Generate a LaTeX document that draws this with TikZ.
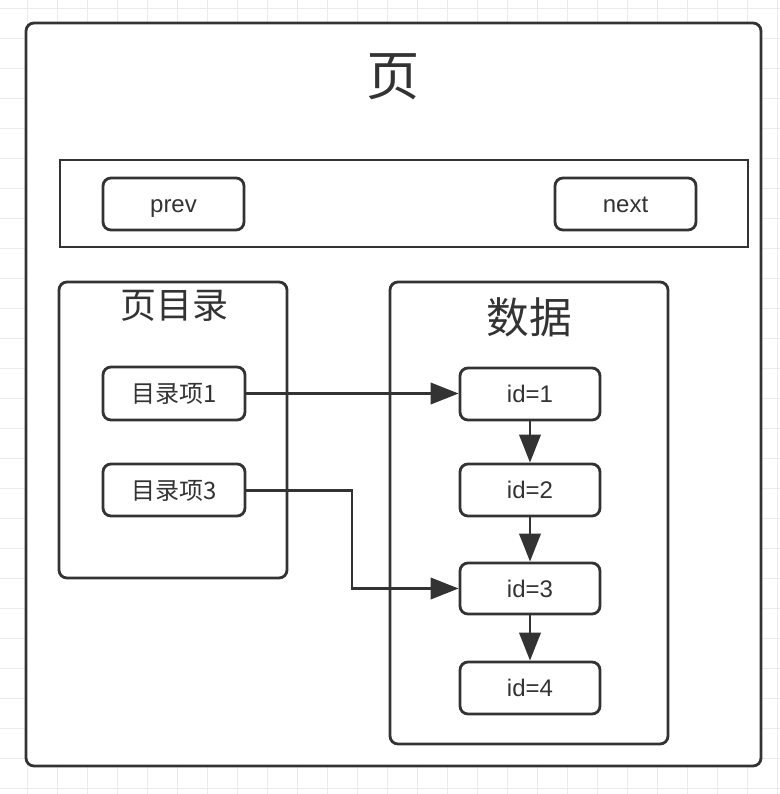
\documentclass[tikz,border=0pt]{standalone}
\usepackage{fontspec}
\setmainfont{Liberation Sans}
\newfontfamily\cjk{Noto Sans CJK SC}
\usetikzlibrary{arrows.meta}
\definecolor{ink}{HTML}{333333}
\definecolor{gridc}{HTML}{EBEBEB}
\tikzset{
  boxbase/.style={draw=ink, line width=2.1pt, fill=white, inner sep=0pt, text=ink},
  rbox/.style={boxbase, rounded corners=6pt},
  sbox/.style={boxbase},
  smalltext/.style={font=\fontsize{18}{20}\selectfont, text height=13pt, text depth=0pt},
  cjksmall/.style={font=\cjk\fontsize{18}{20}\selectfont, text height=13.5pt, text depth=0pt},
  conn/.style={draw=ink, line width=2.1pt, -{Triangle[length=21pt,width=16pt]}},
  titletext/.style={text=ink, inner sep=0pt},
}
\begin{document}
\begin{tikzpicture}[x=0.75pt,y=-0.75pt]
\useasboundingbox (0,0) rectangle (780,794);
\fill[white] (0,0) rectangle (780,794);
% grid
\foreach \gx in {27,57,...,777} \draw[gridc, line width=0.75pt] (\gx,0) -- (\gx,794);
\foreach \gy in {8,38,...,788} \draw[gridc, line width=0.75pt] (0,\gy) -- (780,\gy);
% outer page
\node[rbox, minimum width=551.25pt, minimum height=557.25pt] (page) at (393.5,394.5) {};
\node[titletext, font=\cjk\fontsize{40}{44}\selectfont] (pagetitle) at (393.5,77) {页};
% header bar
\node[sbox, minimum width=516pt, minimum height=65.25pt] (bar) at (404,203.5) {};
\node[rbox, smalltext, minimum width=105.75pt, minimum height=39pt] (prev) at (173.5,204) {prev};
\node[rbox, smalltext, minimum width=105.75pt, minimum height=39pt] (next) at (625.5,204) {next};
% directory
\node[rbox, minimum width=171pt, minimum height=222pt] (dir) at (173,430) {};
\node[titletext, font=\cjk\fontsize{27}{30}\selectfont] (dirtitle) at (174,306) {页目录};
\node[rbox, cjksmall, minimum width=106.5pt, minimum height=39.75pt] (item1) at (174,393.5) {目录项1};
\node[rbox, cjksmall, minimum width=106.5pt, minimum height=39pt] (item3) at (174,490) {目录项3};
% data
\node[rbox, minimum width=208.5pt, minimum height=346.5pt] (data) at (529,513) {};
\node[titletext, font=\cjk\fontsize{32}{36}\selectfont] (datatitle) at (529,317) {数据};
\node[rbox, smalltext, minimum width=105pt, minimum height=39pt] (id1) at (530,394) {id=1};
\node[rbox, smalltext, minimum width=105pt, minimum height=39pt] (id2) at (530,490) {id=2};
\node[rbox, smalltext, minimum width=105pt, minimum height=38.25pt] (id3) at (530,588.5) {id=3};
\node[rbox, smalltext, minimum width=105pt, minimum height=39pt] (id4) at (530,688) {id=4};
% connectors
\draw[conn] (item1.east) -- (item1.east -| id1.west);
\coordinate (bend) at (352,490.5);
\draw[conn] (item3.east |- bend) -- (bend) |- (id3.west);
\draw[conn] (id1.south) -- (id2.north);
\draw[conn] (id2.south) -- (id3.north);
\draw[conn] (id3.south) -- (id4.north);
\end{tikzpicture}
\end{document}
